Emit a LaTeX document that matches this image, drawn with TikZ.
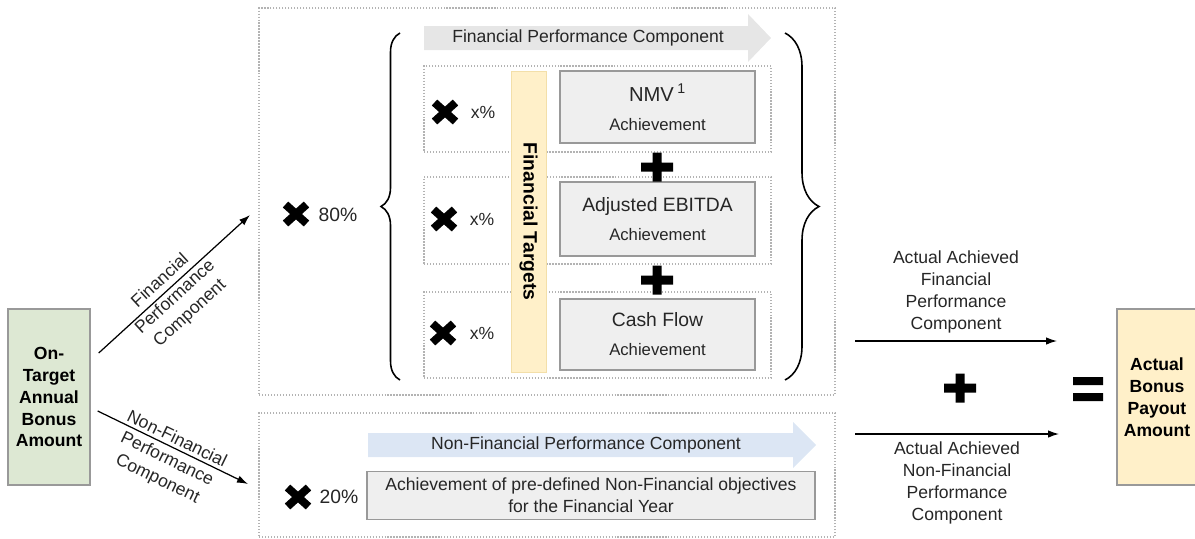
\documentclass[tikz,border=0pt]{standalone}
\usepackage{fontspec}
\setmainfont{Liberation Sans}
\usetikzlibrary{positioning, arrows.meta, decorations.pathreplacing}
\definecolor{boxgreen}{HTML}{DDE8D3}
\definecolor{boxyellow}{HTML}{FFF0C9}
\definecolor{baryellow}{HTML}{F3DFA9}
\definecolor{boxgray}{HTML}{EFEFEF}
\definecolor{edgegray}{HTML}{999999}
\definecolor{dotgray}{HTML}{B3B3B3}
\definecolor{arrowgray}{HTML}{E6E6E6}
\definecolor{arrowblue}{HTML}{DCE6F4}
\definecolor{textgray}{HTML}{262626}
\tikzset{
    flow arrow/.style = {draw, line width=0.7pt, -{Latex[length=0.22cm, width=0.15cm]}},
    dotted frame/.style = {draw=dotgray, densely dotted, line width=0.7pt},
    amount box/.style = {draw=edgegray, line width=0.8pt, align=center, font=\bfseries\fontsize{10}{12.5}\selectfont, minimum width=1.64cm, minimum height=3.52cm},
    target box/.style = {draw=edgegray, fill=boxgray, line width=1.1pt, align=center, text=textgray, minimum width=3.9cm, font=\fontsize{9.5}{16.5}\selectfont},
    side label/.style = {align=center, text=textgray, font=\fontsize{10}{12.5}\selectfont},
}
\tikzset{
    crossmark/.pic = {\draw[line width=0.16cm] (-10.5,-9.5) -- (10.5,9.5) (-10.5,9.5) -- (10.5,-9.5);},
    plusmark/.pic = {\fill (-16,-4.5) rectangle (16,4.5) (-4.5,-14.5) rectangle (4.5,14.5);},
    equalmark/.pic = {\fill (-15,-12) rectangle (15,-4) (-15,4) rectangle (15,12);},
}

\begin{document}
\begin{tikzpicture}[x=0.02cm, y=-0.02cm]
    \useasboundingbox (0,0) rectangle (1195,538);

    % outer frames
    \node[dotted frame, minimum width=11.52cm, minimum height=7.74cm] (fin frame) at (547,201.5) {};
    \node[dotted frame, minimum width=11.52cm, minimum height=2.48cm] (nonfin frame) at (547,475) {};

    % financial part
    \fill[arrowgray] (424,26) -- (748,26) -- (748,14) -- (771,38) -- (748,62) -- (748,50) -- (424,50) -- cycle;
    \node[text=textgray] (fin head) at (588,38) {Financial Performance Component};

    \node[dotted frame, minimum width=6.94cm, minimum height=1.72cm] (nmv row) at (597.5,109) {};
    \node[dotted frame, minimum width=6.94cm, minimum height=1.74cm] (ebitda row) at (597.5,220.5) {};
    \node[dotted frame, minimum width=6.94cm, minimum height=1.72cm] (cash row) at (597.5,335) {};

    \node[rotate=-90, fill=boxyellow, draw=baryellow, minimum width=6.02cm, minimum height=0.7cm,
          font=\bfseries\fontsize{11}{13}\selectfont] (fin targets) at (528.5,221.5) {Financial Targets};

    \node[target box, minimum height=1.44cm] (nmv) at (657.5,107)
        {{\fontsize{11.5}{16.5}\selectfont NMV\,\textsuperscript{1}}\\Achievement};
    \node[target box, minimum height=1.48cm] (ebitda) at (657.5,219)
        {{\fontsize{11}{16.5}\selectfont Adjusted EBITDA}\\Achievement};
    \node[target box, minimum height=1.42cm] (cash) at (657.5,334.5)
        {{\fontsize{11}{16.5}\selectfont Cash Flow}\\Achievement};

    \pic at (445,112) {crossmark};
    \node[text=textgray] (nmv share) at (483,112) {x\%};
    \pic at (444,219) {crossmark};
    \node[text=textgray] (ebitda share) at (482,219) {x\%};
    \pic at (443,333) {crossmark};
    \node[text=textgray] (cash share) at (482,333) {x\%};

    \pic at (657,167) {plusmark};
    \pic at (657,280) {plusmark};

    \draw[decorate, decoration={brace, amplitude=0.38cm}, line width=0.9pt] (400,380) -- (400,33);
    \draw[decorate, decoration={brace, amplitude=0.68cm}, line width=0.9pt] (785,33) -- (785,380);

    \pic at (296,214) {crossmark};
    \node[text=textgray, font=\fontsize{11}{13}\selectfont] (fin share) at (338,215) {80\%};

    % non-financial part
    \fill[arrowblue] (368,433) -- (793,433) -- (793,422) -- (816,445) -- (793,468) -- (793,457) -- (368,457) -- cycle;
    \node[text=textgray] (nonfin head) at (586,445) {Non-Financial Performance Component};
    \node[target box, minimum width=8.96cm, minimum height=0.96cm, inner ysep=1pt,
          font=\fontsize{10}{12.5}\selectfont] (objectives) at (591,495.5)
        {Achievement of pre-defined Non-Financial objectives\\for the Financial Year};
    \pic at (298,497) {crossmark};
    \node[text=textgray, font=\fontsize{11}{13}\selectfont] (nonfin share) at (339,497) {20\%};

    % bonus boxes
    \node[amount box, fill=boxgreen] (on target) at (49,397) {On-\\Target\\Annual\\Bonus\\Amount};
    \node[amount box, fill=boxyellow, minimum width=1.6cm] (payout) at (1157,397) {Actual\\Bonus\\Payout\\Amount};

    \coordinate (fin end) at (250,215);
    \coordinate (nonfin end) at (248,484);
    \draw[flow arrow] ([xshift=0.16cm, yshift=0.88cm]on target.east) -- (fin end)
        node[side label, sloped, pos=0.46, yshift=-0.21cm] {Financial\\Performance\\Component};
    \draw[flow arrow] ([xshift=0.14cm, yshift=-0.28cm]on target.east) -- (nonfin end)
        node[side label, sloped, pos=0.5, yshift=-0.27cm] {Non-Financial\\Performance\\Component};

    \coordinate (fin actual start) at (855,341);
    \coordinate (fin actual end) at (1057,341);
    \coordinate (nonfin actual start) at (855,434);
    \coordinate (nonfin actual end) at (1059,434);
    \draw[flow arrow] (fin actual start) -- (fin actual end)
        node[side label, midway, above=1pt] {Actual Achieved\\Financial\\Performance\\Component};
    \draw[flow arrow] (nonfin actual start) -- (nonfin actual end)
        node[side label, midway, below=1pt] {Actual Achieved\\Non-Financial\\Performance\\Component};

    \pic at (960,388) {plusmark};
    \pic at (1088,389) {equalmark};
\end{tikzpicture}
\end{document}
